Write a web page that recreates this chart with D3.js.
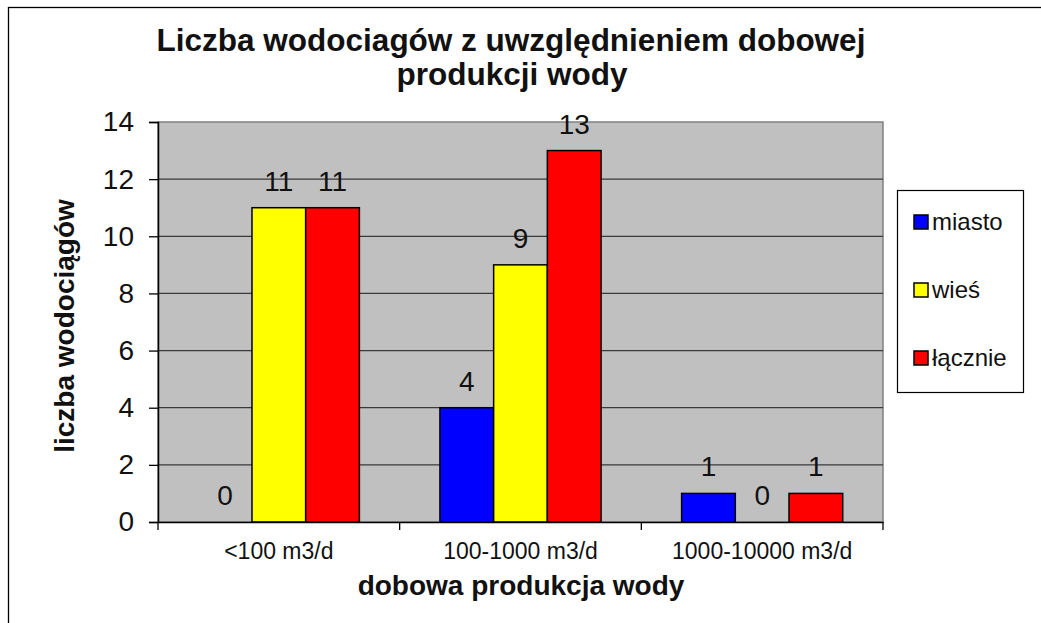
<!DOCTYPE html>
<html>
<head>
    <meta charset="utf-8">
    <title>wodociagi</title>
    <style>
body { margin: 0; background: #fff; font-family: "Liberation Sans", Arial, sans-serif; }
.grid line { stroke: #3a3a3a; stroke-width: 1.2; }
.bar { stroke: #000; stroke-width: 1.5; }
</style>
</head>
<body>
<script src="https://cdn.jsdelivr.net/npm/d3@7"></script>
<script>
    /* Data */
    var categories = ["<100 m3/d", "100-1000 m3/d", "1000-10000 m3/d"];
    var seriesNames = ["miasto", "wieś", "łącznie"];
    var miasto = [0, 4, 1];
    var wies = [11, 9, 0];
    var lacznie = [11, 13, 1];
    var yTicks = [0, 2, 4, 6, 8, 10, 12, 14];
    var colors = ["#0000ff", "#ffff00", "#ff0000"];

    var seriesValues = [miasto, wies, lacznie];

    var totalWidth = 1041, totalHeight = 623;
    var margin = { top: 122, right: 158, bottom: 101, left: 158 };
    var width = totalWidth - margin.left - margin.right,
        height = totalHeight - margin.top - margin.bottom;

    var root = d3.select("body").append("svg")
        .attr("width", totalWidth)
        .attr("height", totalHeight);

    /* outer chart border - only left and top show inside the picture */
    root.append("rect")
        .attr("x", 8.5).attr("y", 7.5)
        .attr("width", 1060).attr("height", 640)
        .attr("fill", "none").attr("stroke", "#000").attr("stroke-width", 1.3);

    var svg = root.append("g")
        .attr("transform", "translate(" + margin.left + "," + margin.top + ")");

    var x0 = d3.scaleBand().domain(categories).range([0, width]).padding(0);
    /* Excel gap width 150%: 0.75 bar on each side of the group */
    var x1 = d3.scaleBand().domain(seriesNames).range([0, x0.bandwidth()])
        .paddingInner(0).paddingOuter(0.75);
    var y = d3.scaleLinear().domain([0, 14]).range([height, 0]);

    /* plot area */
    svg.append("rect")
        .attr("width", width).attr("height", height)
        .attr("fill", "#c0c0c0")
        .attr("stroke", "#808080").attr("stroke-width", 1.5);

    /* gridlines */
    svg.append("g").attr("class", "grid")
        .selectAll("line")
        .data(yTicks.filter(function (t) { return t > 0 && t < 14; }))
        .enter().append("line")
        .attr("x1", 0).attr("x2", width)
        .attr("y1", function (d) { return y(d); })
        .attr("y2", function (d) { return y(d); });

    /* bars, one group per category */
    var rows = [];
    categories.forEach(function (c, i) {
        seriesNames.forEach(function (s, j) {
            rows.push({ cat: c, series: s, v: seriesValues[j][i], color: colors[j] });
        });
    });

    svg.selectAll(".bar")
        .data(rows.filter(function (d) { return d.v > 0; }))
        .enter().append("rect")
        .attr("class", "bar")
        .attr("x", function (d) { return x0(d.cat) + x1(d.series); })
        .attr("width", x1.bandwidth())
        .attr("y", function (d) { return y(d.v); })
        .attr("height", function (d) { return height - y(d.v); })
        .attr("fill", function (d) { return d.color; });

    /* value labels */
    svg.selectAll(".val")
        .data(rows)
        .enter().append("text")
        .attr("class", "val")
        .attr("x", function (d) { return x0(d.cat) + x1(d.series) + x1.bandwidth() / 2; })
        .attr("y", function (d) { return y(d.v) - 17; })
        .attr("text-anchor", "middle")
        .style("font-size", "28px")
        .attr("fill", "#111")
        .text(function (d) { return d.v; });

    /* y axis */
    var yAxis = svg.append("g")
        .call(d3.axisLeft(y).tickValues(yTicks).tickSize(9).tickPadding(15));
    yAxis.select(".domain").attr("stroke", "#000").attr("stroke-width", 1.5);
    yAxis.selectAll(".tick line").attr("stroke", "#000").attr("stroke-width", 1.3);
    yAxis.selectAll("text")
        .style("font-family", "Liberation Sans, Arial, sans-serif")
        .style("font-size", "28px").attr("fill", "#111");

    /* x axis: labels centred, ticks on category boundaries */
    var xAxis = svg.append("g")
        .attr("transform", "translate(0," + height + ")")
        .call(d3.axisBottom(x0).tickSize(0).tickPadding(21));
    xAxis.select(".domain").attr("stroke", "#000").attr("stroke-width", 1.5);
    xAxis.selectAll("text")
        .style("font-family", "Liberation Sans, Arial, sans-serif")
        .style("font-size", "23px").attr("fill", "#111");
    xAxis.selectAll(".bound")
        .data(categories.map(function (c) { return x0(c); }).concat([width]))
        .enter().append("line")
        .attr("x1", function (d) { return d; }).attr("x2", function (d) { return d; })
        .attr("y1", 0).attr("y2", 8)
        .attr("stroke", "#000").attr("stroke-width", 1.3);

    /* titles */
    var title = root.append("text")
        .attr("x", 511).attr("y", 50)
        .attr("text-anchor", "middle")
        .style("font-size", "31.5px").style("font-weight", "bold")
        .attr("fill", "#111");
    title.append("tspan").attr("x", 511).attr("y", 51)
        .text("Liczba wodociagów z uwzględnieniem dobowej");
    title.append("tspan").attr("x", 512).attr("y", 85)
        .text("produkcji wody");

    root.append("text")
        .attr("transform", "translate(74," + 326 + ") rotate(-90)")
        .attr("text-anchor", "middle")
        .style("font-size", "28px").style("font-weight", "bold")
        .attr("fill", "#111")
        .text("liczba wodociągów");

    root.append("text")
        .attr("x", 521).attr("y", 595)
        .attr("text-anchor", "middle")
        .style("font-size", "28px").style("font-weight", "bold")
        .attr("fill", "#111")
        .text("dobowa produkcja wody");

    /* legend */
    var legend = root.append("g");
    legend.append("rect")
        .attr("x", 897.5).attr("y", 190.5)
        .attr("width", 126).attr("height", 202)
        .attr("fill", "#fff").attr("stroke", "#000").attr("stroke-width", 1.2);
    var legendY = d3.scalePoint().domain(seriesNames).range([222, 358]);
    var item = legend.selectAll(".item")
        .data(seriesNames)
        .enter().append("g")
        .attr("transform", function (d) { return "translate(914," + legendY(d) + ")"; });
    item.append("rect")
        .attr("x", 0).attr("y", -7)
        .attr("width", 14).attr("height", 14)
        .attr("fill", function (d, i) { return colors[i]; })
        .attr("stroke", "#000").attr("stroke-width", 1.5);
    item.append("text")
        .attr("x", 18).attr("y", 0).attr("dy", "0.35em")
        .style("font-size", "24px").attr("fill", "#111")
        .text(function (d) { return d; });
</script>
</body>
</html>
